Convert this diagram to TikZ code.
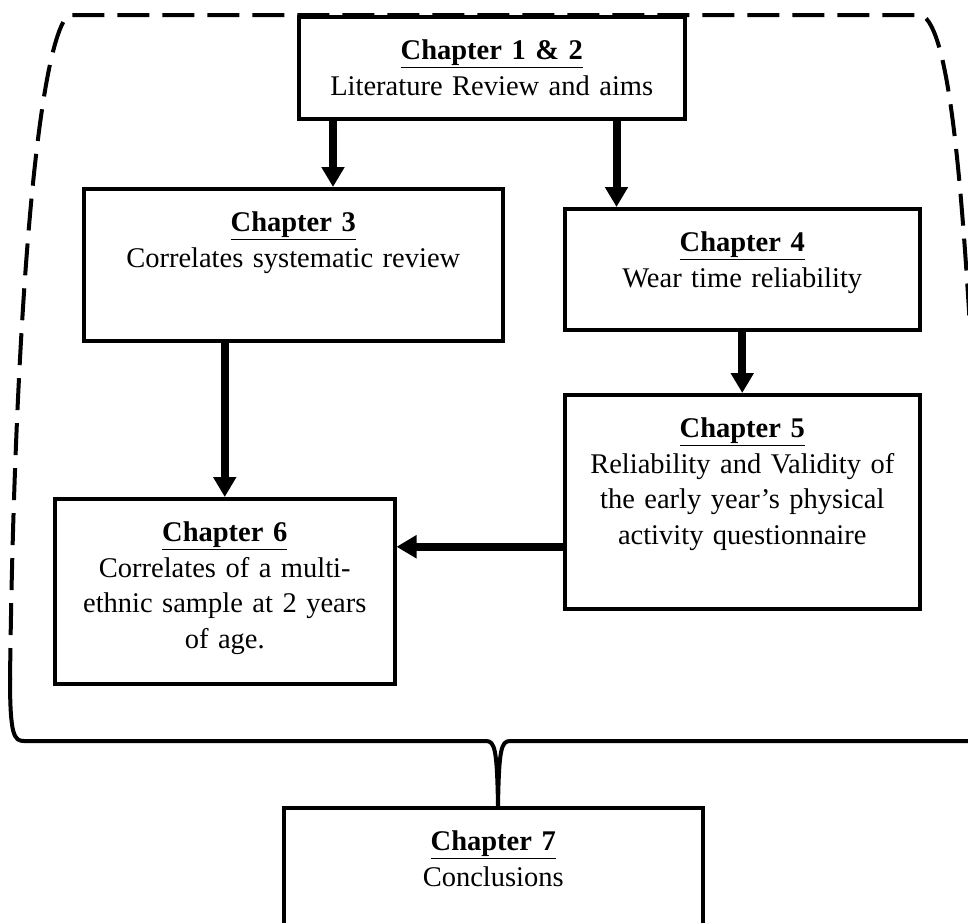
\documentclass[tikz,border=0pt]{standalone}
\usepackage{fontspec}
\setmainfont{Liberation Serif}
\usetikzlibrary{arrows.meta}

\begin{document}
\begin{tikzpicture}[x=1pt, y=-1pt,
  chap/.style={draw, fill=white, line width=3.5pt, anchor=north west, align=center,
    inner xsep=0pt, inner ysep=0pt, text height=43pt,
    font=\fontsize{28.5}{35.5}\selectfont},
  arr/.style={line width=8pt, -{Triangle[length=20pt,width=22pt]}},
  frame/.style={line width=4pt, dash pattern=on 32pt off 13pt}]
\clip (0,0) rectangle (968,922);
% 虚线外框
\draw[frame] (10,680) .. controls (14,350) and (35,50) .. (68,15) -- (922,15)
  .. controls (948,30) and (962,160) .. (975,420);
% 底部大括号
\draw[line width=4pt] (10,678) .. controls (10,735) and (14,741) .. (24,741) -- (486,741)
  .. controls (495,741) and (497,750) .. (498,806);
\draw[line width=4pt] (975,741) -- (510,741) .. controls (501,741) and (499,750) .. (498,806);
% 各章方框
\node[chap, text width=386pt, text depth=59pt] (ch12) at (297,15)
  {\underline{\textbf{Chapter 1 \& 2}}\\Literature Review and aims};
\node[chap, text width=419pt, text depth=109pt] (ch3) at (82,187)
  {\underline{\textbf{Chapter 3}}\\Correlates systematic review};
\node[chap, text width=355pt, text depth=78pt] (ch4) at (563,207)
  {\underline{\textbf{Chapter 4}}\\Wear time reliability};
\node[chap, text width=355pt, text depth=171pt] (ch5) at (563,393)
  {\underline{\textbf{Chapter 5}}\\Reliability and Validity of\\the early year’s physical\\activity questionnaire};
\node[chap, text width=340pt, text depth=142pt] (ch6) at (53,497)
  {\underline{\textbf{Chapter 6}}\\Correlates of a multi-\\ethnic sample at 2 years\\of age.};
\node[chap, text width=419pt, text depth=110pt] (ch7) at (282,806)
  {\underline{\textbf{Chapter 7}}\\Conclusions};
% 箭头
\draw[arr] ([xshift=36pt]ch12.south west) -- ([xshift=36pt]ch12.south west |- ch3.north);
\draw[arr] ([xshift=-70pt]ch12.south east) -- ([xshift=-70pt]ch12.south east |- ch4.north);
\draw[arr] (ch3.south -| ch6.north) -- (ch6.north);
\draw[arr] (ch4) -- (ch5);
\draw[arr] ([yshift=-45pt]ch5.west) -- ([yshift=-45pt]ch5.west -| ch6.east);
\end{tikzpicture}
\end{document}
